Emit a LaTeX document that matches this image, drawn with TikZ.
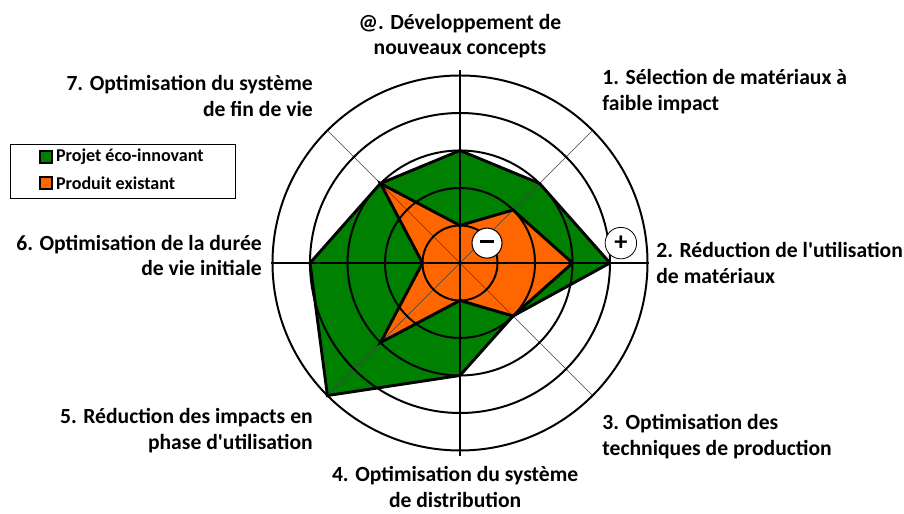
\documentclass[tikz,border=0pt]{standalone}
\usepackage{fontspec}
\setmainfont{Carlito}[Ligatures=TeXOff]
\usetikzlibrary{arrows}
\definecolor{G}{RGB}{0, 128, 0}
\definecolor{O}{RGB}{255, 102, 0}
\tikzset{
  lbl/.style={font=\bfseries\fontsize{16.4}{19.7}\selectfont, inner sep=0pt},
  leg/.style={font=\bfseries\fontsize{13.7}{16}\selectfont, inner sep=0pt, anchor=west},
  signe/.style={circle, draw, fill=white, inner sep=0pt}
}
\begin{document}
\begin{tikzpicture}
	% Cadre de l'image
	\useasboundingbox (-12.267, -6.693) rectangle (11.84, 7.013);

	% Projet eco-innovant
	\fill[color=G] (90:3) -- (45:3) -- (0:4) -- (-45:2) -- (-90:3) -- (-135:5) -- (180:4) -- (135:3) -- cycle;
	% Produit existant
	\fill[color=O] (90:1) -- (45:2) -- (0:3) -- (-45:2) -- (-90:1) -- (-135:3) -- (180:1) -- (135:3) -- cycle;

	% Grille : axes et cercles
	\foreach \a in {45,135,225,315}
		\draw[line width=0.5pt, color=black!75] (0,0) -- (\a:5);
	\draw[line width=0.9pt] (-5.05,0) -- (5.05,0);
	\draw[line width=0.9pt] (0,-5.15) -- (0,5.15);
	\foreach \r in {1,...,5}
		\draw[line width=1.5pt] (0,0) circle (\r);

	% Contours
	\draw[line width=2.2pt, line join=miter] (90:3) -- (45:3) -- (0:4) -- (-45:2) -- (-90:3) -- (-135:5) -- (180:4) -- (135:3) -- cycle;
	\draw[line width=2.2pt, line join=miter] (90:1) -- (45:2) -- (0:3) -- (-45:2) -- (-90:1) -- (-135:3) -- (180:1) -- (135:3) -- cycle;

	% Signes - et +
	\node[signe, line width=0.8pt, minimum size=0.8cm] (moins) at (0.72, 0.53) {\rule[0.1cm]{0.36cm}{2.6pt}};
	\node[signe, line width=0.6pt, minimum size=0.84cm, font=\bfseries\fontsize{20}{20}\selectfont] (plus) at (4.29, 0.53) {+};

	% Axes
	\node[lbl, align=center] (ax0) at (0, 6.05) {@. Développement de\\nouveaux concepts};
	\node[lbl, align=left, anchor=west] (ax1) at (3.79, 4.57) {1. Sélection de matériaux à\\faible impact};
	\node[lbl, align=left, anchor=west] (ax2) at (5.23, -0.01) {2. Réduction de l'utilisation\\de matériaux};
	\node[lbl, align=left, anchor=west] (ax3) at (3.79, -4.63) {3. Optimisation des\\techniques de production};
	\node[lbl, align=center] (ax4) at (-0.13, -5.98) {4. Optimisation du système\\de distribution};
	\node[lbl, align=right, anchor=east] (ax5) at (-3.92, -4.48) {5. Réduction des impacts en\\phase d'utilisation};
	\node[lbl, align=right, anchor=east] (ax6) at (-5.28, 0.2) {6. Optimisation de la durée\\de vie initiale};
	\node[lbl, align=right, anchor=east] (ax7) at (-3.92, 4.45) {7. Optimisation du système\\de fin de vie};

	% Legende
	\draw[line width=0.6pt] (-12.0, 1.73) rectangle (-6.0, 3.17);
	\filldraw[fill=G, line width=1.2pt] (-11.2, 2.67) rectangle (-10.88, 2.99);
	\filldraw[fill=O, line width=1.2pt] (-11.2, 1.97) rectangle (-10.88, 2.29);
	\node[leg] (lg1) at (-10.78, 2.83) {Projet éco-innovant};
	\node[leg] (lg2) at (-10.78, 2.13) {Produit existant};
\end{tikzpicture}
\end{document}
